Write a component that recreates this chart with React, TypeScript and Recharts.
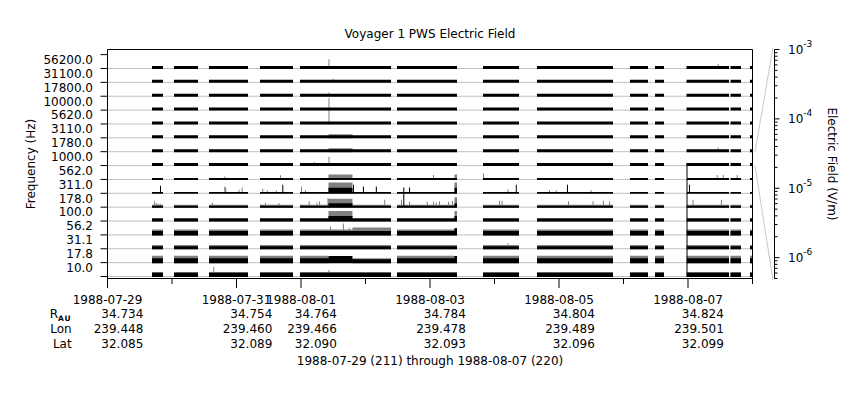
import React from 'react';
import { ComposedChart, Area, XAxis, YAxis, CartesianGrid, ReferenceLine } from 'recharts';

const FONT = 'DejaVu Sans';

// channel centre frequencies (Hz), bottom row first
const channels = ['10.0', '17.8', '31.1', '56.2', '100.0', '178.0', '311.0', '562.0', '1000.0', '1780.0', '3110.0', '5620.0', '10000.0', '17800.0', '31100.0', '56200.0'];

// time axis in days since 1988-07-29 00:00
const dayTicks = [0, 1, 2, 3, 4, 5, 6, 7, 8, 9, 10];
const labelDays = [0, 2, 3, 5, 7, 9];
const dateLabels = ['1988-07-29', '1988-07-31', '1988-08-01', '1988-08-03', '1988-08-05', '1988-08-07'];
const radiusAU = ['34.734', '34.754', '34.764', '34.784', '34.804', '34.824'];
const lonDeg = ['239.448', '239.460', '239.466', '239.478', '239.489', '239.501'];
const latDeg = ['32.085', '32.089', '32.090', '32.093', '32.096', '32.099'];

// intervals with data (days)
const coverage: [number, number][] = [
  [0.69, 0.86], [1.031, 1.403], [1.574, 2.178], [2.364, 2.876], [2.984, 4.395], [4.488, 5.419],
  [5.822, 6.38], [6.659, 7.837], [8.101, 8.38], [8.488, 8.628], [8.977, 9.636], [9.659, 9.822], [9.961, 10],
];

// usual level per channel (V/m): average (black) and peak (gray)
const avgLevel = [5.3e-6, 7.7e-6, 2.6e-6, 5.3e-6, 2.6e-6, 1.5e-6, 1.4e-6, 1.5e-6, 2.6e-6, 2.6e-6, 2.6e-6, 2.6e-6, 2.6e-6, 2.6e-6, 2.6e-6, 2.6e-6];
const peakLevel = [7.7e-6, 2.7e-5, 5.3e-6, 1.3e-5, 3.4e-6, 2.5e-6, 0, 0, 0, 0, 0, 0, 0, 0, 0, 0];

// [channel, start, end, average, peak]
const events: [number, number, number, number, number][] = [
  [10, 3.426, 3.798, 2.6e-6, 4.5e-6],
  [9, 3.426, 3.798, 2.6e-6, 4.5e-6],
  [7, 3.426, 3.798, 1.5e-6, 1.0e-5],
  [6, 3.426, 3.798, 1.4e-5, 2.3e-4],
  [5, 3.426, 3.798, 5.9e-6, 6.2e-5],
  [4, 3.426, 3.798, 1.0e-5, 1.6e-4],
  [3, 3.798, 4.395, 5.3e-6, 3.6e-5],
  [1, 3.426, 3.798, 2.6e-5, 0],
  [1, 3.798, 4.395, 4.0e-6, 7.7e-6],
  [7, 5.38, 5.419, 1.5e-6, 1.0e-5],
  [6, 5.38, 5.419, 1.4e-5, 2.3e-4],
  [5, 5.38, 5.419, 5.9e-6, 1.6e-4],
  [4, 5.38, 5.419, 1.0e-5, 1.6e-4],
  [3, 5.38, 5.419, 2.6e-5, 2.6e-5],
  [1, 5.38, 5.419, 2.6e-5, 2.6e-5],
];

// [channel, day, value, 1 = average / 0 = peak]
const spikes: [number, number, number, number][] = [
  [15, 3.426, 1.0e-4, 0], [14, 3.49, 4.5e-6, 0], [13, 3.426, 5.3e-6, 0], [12, 3.426, 5.2e-4, 0],
  [11, 3.426, 1.4e-3, 0], [8, 3.2, 4.5e-6, 0], [8, 3.426, 8.2e-5, 0], [0, 3.426, 2.3e-5, 0],
  [15, 9.46, 7.7e-6, 0], [9, 9.46, 6.5e-6, 0],
  [7, 1.81, 3.1e-6, 0], [7, 2.674, 6.5e-6, 0], [7, 5.047, 7.7e-6, 0], [7, 5.822, 2.0e-5, 0],
  [7, 9.445, 7.7e-6, 0], [7, 9.54, 7.7e-6, 0], [7, 9.755, 7.7e-6, 0],
  [6, 0.814, 4e-5, 1], [6, 1.81, 2.7e-5, 0], [6, 1.826, 1.3e-5, 0], [6, 2.03, 4.5e-6, 0],
  [6, 2.08, 1.6e-5, 0], [6, 2.4, 7.7e-6, 0], [6, 2.47, 3.1e-6, 0], [6, 2.61, 3.1e-6, 0],
  [6, 2.71, 6.9e-5, 1], [6, 3.0, 2.7e-5, 0], [6, 3.06, 4e-6, 0], [6, 3.806, 6.9e-5, 1],
  [6, 3.96, 2.7e-5, 1], [6, 4.16, 2.7e-5, 1], [6, 4.586, 1.6e-5, 1], [6, 4.675, 1.6e-5, 1],
  [6, 6.2, 5e-6, 0], [6, 6.33, 6.9e-5, 1], [6, 6.845, 3.4e-6, 0], [6, 6.95, 3.4e-6, 0],
  [6, 7.124, 6.9e-5, 1], [6, 7.49, 3.4e-6, 0], [6, 9.015, 6.9e-5, 1],
  [5, 0.72, 1.6e-5, 0], [5, 0.75, 6.5e-6, 0], [5, 0.78, 4.5e-6, 0], [5, 0.81, 4.5e-6, 0],
  [5, 1.616, 9e-6, 0], [5, 2.44, 7.7e-6, 0], [5, 2.65, 6.5e-6, 0], [5, 3.12, 1.6e-5, 0],
  [5, 3.24, 9e-6, 0], [5, 3.28, 1.6e-5, 0], [5, 3.41, 1.0e-4, 0], [5, 4.29, 4e-5, 0],
  [5, 4.55, 4e-5, 0], [5, 4.586, 1.05e-3, 1], [5, 4.675, 1.3e-5, 0], [5, 4.95, 1.3e-5, 0],
  [5, 5.047, 1.3e-5, 0], [5, 5.09, 9e-6, 0], [5, 5.14, 1.6e-5, 0], [5, 5.28, 1.3e-5, 0],
  [5, 5.34, 2e-5, 0], [5, 6.07, 2.3e-5, 0], [5, 6.11, 2.3e-5, 0], [5, 7.14, 1.6e-5, 0],
  [5, 7.52, 1.6e-5, 0], [5, 7.68, 2.3e-5, 0], [5, 7.775, 1.6e-5, 0], [5, 9.07, 4e-5, 0],
  [5, 9.51, 4e-5, 0],
  [3, 3.45, 5.8e-5, 0], [3, 3.65, 3.6e-4, 0], [3, 3.74, 3.4e-5, 0],
  [2, 6.2, 1.3e-5, 0], [0, 1.64, 1.4e-4, 0],
  [0, 8.977, 1.3e-3, 1], [1, 8.977, 1.3e-3, 1], [2, 8.977, 1.3e-3, 1], [3, 8.977, 1.3e-3, 1],
  [4, 8.977, 1.3e-3, 1], [5, 8.977, 1.3e-3, 1], [6, 8.977, 1.3e-3, 1], [7, 8.977, 4.5e-3, 1],
];

// the channel whose strip is expanded on the right-hand scale
const zoomChannel = 8;
const efieldDecades = [1e-7, 1e-6, 1e-5, 1e-4];

const E_MIN = 5e-7;
const E_MAX = 1e-3;
const Y_MIN = -0.144;
const Y_MAX = 16.37;
const SPIKE_W = 0.0155;
const FLOOR = 0.036;

const frac = (e: number) => (e <= E_MIN ? 0 : Math.log10(e / E_MIN) / Math.log10(E_MAX / E_MIN));

function levelAt(ch: number, t: number) {
  let avg = avgLevel[ch];
  let peak = peakLevel[ch];
  for (const [c, t0, t1, a, p] of events) {
    if (c === ch && t >= t0 && t < t1) { avg = a; peak = p; }
  }
  for (const [c, ts, v, kind] of spikes) {
    if (c === ch && t >= ts && t < ts + SPIKE_W) {
      if (kind) avg = Math.max(avg, v);
      else peak = Math.max(peak, v);
    }
  }
  return [avg, peak];
}

const times = Array.from(new Set([
  ...coverage.flat(),
  ...coverage.slice(1).map(([a], i) => (coverage[i][1] + a) / 2),
  ...events.flatMap((e) => [e[1], e[2]]),
  ...spikes.flatMap((s) => [s[1], s[1] + SPIKE_W]),
])).sort((a, b) => a - b);

const chartData = times.map((t) => {
  const on = coverage.some(([a, b]) => t >= a && t <= b);
  const row: Record<string, any> = { t };
  channels.forEach((_, ch) => {
    if (!on) { row[`a${ch}`] = null; row[`p${ch}`] = null; return; }
    const [avg, peak] = levelAt(ch, t);
    const base = ch - FLOOR;
    row[`a${ch}`] = [base, base + frac(avg)];
    row[`p${ch}`] = [base, base + frac(peak)];
  });
  return row;
});

const efieldTicks = efieldDecades
  .flatMap((d) => [1, 2, 3, 4, 5, 6, 7, 8, 9].map((m) => m * d))
  .concat(E_MAX)
  .filter((v) => v >= E_MIN * 0.999 && v <= E_MAX * 1.001);

const rowTicks = [...channels.map((_, i) => i), channels.length];

function RowTick({ x, y, payload }: any) {
  const k = payload.value;
  return (
    <g>
      <line x1={x - 7} x2={x} y1={y} y2={y} stroke="#000" />
      {k > 0 && (
        <text x={x - 14.5} y={y + 9.3} textAnchor="end" fontSize={12} fontFamily={FONT} fill="#000">
          {channels[k - 1]}
        </text>
      )}
    </g>
  );
}

function DayTick({ x, y, payload }: any) {
  const d = payload.value;
  const i = labelDays.indexOf(d);
  const txt = { fontSize: 12, fontFamily: FONT, fill: '#000' };
  return (
    <g>
      <line x1={x} x2={x} y1={y} y2={y + (i >= 0 ? 9.5 : 5.5)} stroke="#000" />
      {i >= 0 && (
        <g>
          <text x={x} y={y + 25.8} textAnchor="middle" {...txt}>{dateLabels[i]}</text>
          <text x={x + 35.8} y={y + 39.8} textAnchor="end" {...txt}>{radiusAU[i]}</text>
          <text x={x + 35.8} y={y + 54.8} textAnchor="end" {...txt}>{lonDeg[i]}</text>
          <text x={x + 35.8} y={y + 69.8} textAnchor="end" {...txt}>{latDeg[i]}</text>
        </g>
      )}
      {d === 0 && (
        <g>
          <text x={x - 35.8} y={y + 39.8} textAnchor="end" {...txt}>
            <tspan>R</tspan>
            <tspan fontSize={7.5} fontWeight="bold" letterSpacing={1} dy={3}>AU</tspan>
          </text>
          <text x={x - 35.8} y={y + 54.8} textAnchor="end" {...txt}>Lon</text>
          <text x={x - 35.8} y={y + 69.8} textAnchor="end" {...txt}>Lat</text>
        </g>
      )}
    </g>
  );
}

function EfieldTick({ x, y, payload }: any) {
  const lg = Math.log10(payload.value);
  const exp = Math.round(lg);
  const major = Math.abs(lg - exp) < 1e-6;
  return (
    <g>
      <line x1={x} x2={x + (major ? 5 : 3)} y1={y} y2={y} stroke="#000" />
      {major && (
        <text x={x + 13.5} y={y + 4.3} fontSize={12} fontFamily={FONT} fill="#000">
          10<tspan fontSize={9} dy={-7}>{exp}</tspan>
        </text>
      )}
    </g>
  );
}

function SideTitle({ viewBox, text, shift, turn }: any) {
  const x = viewBox.x + shift;
  const y = viewBox.y + viewBox.height / 2;
  return (
    <text x={x} y={y} transform={`rotate(${turn}, ${x}, ${y})`} textAnchor="middle" fontSize={12} fontFamily={FONT} fill="#000">
      {text}
    </text>
  );
}

function CenterText({ viewBox, text, lift }: any) {
  return (
    <text x={viewBox.x + viewBox.width / 2} y={viewBox.y + lift} textAnchor="middle" fontSize={12} fontFamily={FONT} fill="#000">
      {text}
    </text>
  );
}

export default function App() {
  return (
    <div style={{ position: 'absolute', left: 0, top: 0, width: 860, height: 400, background: '#fff', fontFamily: FONT }}>
      <ComposedChart width={860} height={400} data={chartData} margin={{ top: 48.5, right: 0, bottom: 0, left: 0 }}>
        <CartesianGrid vertical={false} horizontalValues={channels.map((_, i) => i)} stroke="#c0c0c0" />
        <XAxis
          dataKey="t"
          type="number"
          domain={[0, 10]}
          allowDataOverflow
          ticks={dayTicks}
          interval={0}
          tickLine={false}
          tickSize={0}
          tickMargin={0}
          tick={(p: any) => <DayTick {...p} />}
          axisLine={{ stroke: '#000' }}
          height={121.5}
          label={<CenterText text="1988-07-29 (211) through 1988-08-07 (220)" lift={86.8} />}
        />
        <XAxis
          xAxisId="top"
          orientation="top"
          type="number"
          domain={[0, 10]}
          height={1}
          tick={false}
          tickLine={false}
          axisLine={{ stroke: '#000' }}
          label={<CenterText text="Voyager 1 PWS Electric Field" lift={-10.5} />}
        />
        <YAxis
          type="number"
          domain={[Y_MIN, Y_MAX]}
          allowDataOverflow
          ticks={rowTicks}
          interval={0}
          tickLine={false}
          tickSize={0}
          tickMargin={0}
          tick={(p: any) => <RowTick {...p} />}
          axisLine={{ stroke: '#000' }}
          width={107.5}
          label={<SideTitle text="Frequency (Hz)" shift={35} turn={-90} />}
        />
        <YAxis
          yAxisId="axisA"
          orientation="right"
          type="number"
          domain={[0, 1]}
          width={22}
          tick={false}
          tickLine={false}
          axisLine={{ stroke: '#000' }}
        />
        <YAxis
          yAxisId="axisB"
          orientation="right"
          type="number"
          scale="log"
          domain={[E_MIN, E_MAX]}
          allowDataOverflow
          ticks={efieldTicks}
          interval={0}
          tickLine={false}
          tickSize={0}
          tickMargin={0}
          tick={(p: any) => <EfieldTick {...p} />}
          axisLine={{ stroke: '#000' }}
          width={85.5}
          label={<SideTitle text="Electric Field (V/m)" shift={53.5} turn={90} />}
        />
        {channels.map((_, ch) => (
          <Area
            key={`p${ch}`}
            dataKey={`p${ch}`}
            type="stepAfter"
            fill="#808080"
            fillOpacity={1}
            stroke="none"
            dot={false}
            activeDot={false}
            isAnimationActive={false}
          />
        ))}
        {channels.map((_, ch) => (
          <Area
            key={`a${ch}`}
            dataKey={`a${ch}`}
            type="stepAfter"
            fill="#000"
            fillOpacity={1}
            stroke="none"
            dot={false}
            activeDot={false}
            isAnimationActive={false}
          />
        ))}
        <ReferenceLine
          segment={[{ x: 10.039, y: zoomChannel + 1 }, { x: 10.318, y: Y_MAX + 0.15 }]}
          stroke="#c8c8c8"
          ifOverflow="visible"
        />
        <ReferenceLine
          segment={[{ x: 10.039, y: zoomChannel }, { x: 10.318, y: Y_MIN - 0.11 }]}
          stroke="#c8c8c8"
          ifOverflow="visible"
        />
      </ComposedChart>
    </div>
  );
}
